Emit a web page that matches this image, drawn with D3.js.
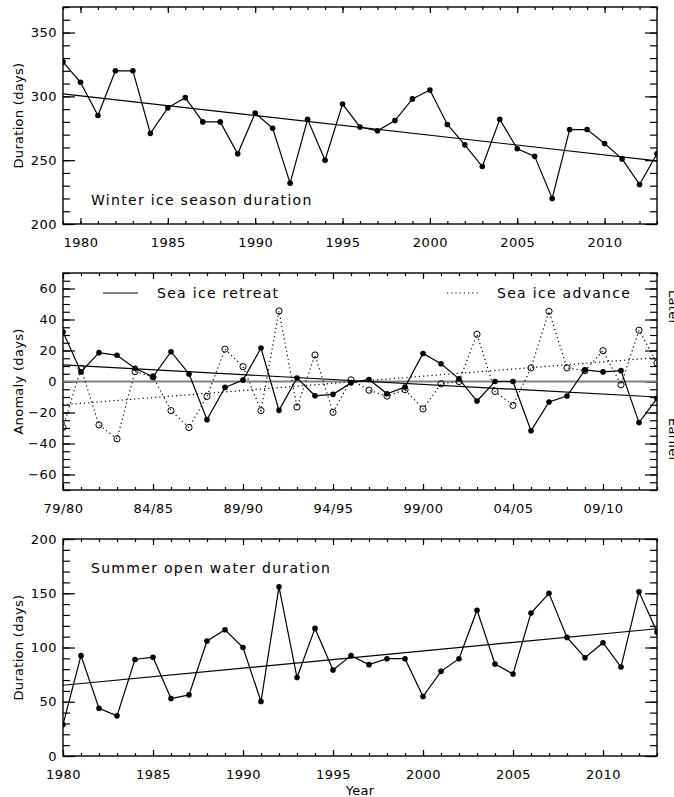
<!DOCTYPE html>
<html>
<head>
<meta charset="utf-8">
<title>Ice season duration</title>
<script src="https://cdn.jsdelivr.net/npm/d3@7"></script>
<style>
body { margin: 0; background: #fff; }
text { font-family: "DejaVu Sans", sans-serif; fill: #000; }
.tick text { font-size: 13px; letter-spacing: 0.5px; }
.domain { display: none; }
.tick line { stroke: #000; stroke-width: 1.2px; }
.frame { fill: none; stroke: #000; stroke-width: 1.4px; }
.line { fill: none; stroke: #000; stroke-width: 1.2px; }
.dotted { stroke-dasharray: 1.2 3; }
.title { font-size: 14px; letter-spacing: 1.3px; }
.ylab { font-size: 13px; letter-spacing: 0.3px; }
</style>
</head>
<body>
<script>
// winter ice season duration, 1979-2013
var winterYears = [1979,1980,1981,1982,1983,1984,1985,1986,1987,1988,1989,1990,1991,1992,1993,1994,1995,1996,
  1997,1998,1999,2000,2001,2002,2003,2004,2005,2006,2007,2008,2009,2010,2011,2012,2013];
var winter = [327,311,285,320,320,271,291,299,280,280,255,287,275,232,282,250,294,276,273,281,298,305,278,262,
  245,282,259,253,220,274,274,263,251,231,255];
var winterTrend = [302, 249.5];

// anomalies by season, 79/80 - 12/13 (first year of season)
var seasons = [1979,1980,1981,1982,1983,1984,1985,1986,1987,1988,1989,1990,1991,1992,1993,1994,1995,1996,
  1997,1998,1999,2000,2001,2002,2003,2004,2005,2006,2007,2008,2009,2010,2011,2012];
var seasonTicks = [1979,1984,1989,1994,1999,2004,2009];
var seasonLabels = ["79/80","84/85","89/90","94/95","99/00","04/05","09/10"];
var retreat = [32,6.2,18.6,16.9,8.5,3,19.2,4.9,-24.6,-3.8,0.9,21.6,-18.6,2.3,-9.2,-8.3,-0.9,1.3,-7.9,-3.6,
  18.1,11.5,1.7,-12.6,0,0,-31.8,-13.2,-9.4,7.5,6.2,7,-26.5,-10.9];
var advance = [-29.7,8.5,-28,-37,6.4,3,-18.8,-29.7,-9.6,20.9,9.6,-18.8,45.5,-16.4,17.1,-19.9,1.1,-5.6,-9.4,
  -5.3,-17.7,-1.5,0,30.5,-6.4,-15.4,8.8,45.3,8.8,7,19.9,-2.1,33.1,12];
var retreatTrend = [10.7, -10];
var advanceTrend = [-15, 15.4];

// summer open water duration, 1980-2013
var summerYears = [1980,1981,1982,1983,1984,1985,1986,1987,1988,1989,1990,1991,1992,1993,1994,1995,1996,
  1997,1998,1999,2000,2001,2002,2003,2004,2005,2006,2007,2008,2009,2010,2011,2012,2013];
var summer = [29,92.5,44,37,89,91,53,56.3,106,116.4,100,50.2,155.9,72.3,117.6,79.3,92.5,84.2,89.7,89.7,
  54.8,78,89.7,134.4,84.8,75.6,131.7,150,109.3,90.6,104.4,82,151.3,114.2];
var summerTrend = [65.2, 117.3];

var _width = 674, _height = 797;
var left = 63, right = 657, ph = 217;
var tops = [7, 273, 539];

var svg = d3.select("body").append("svg")
  .attr("width", _width).attr("height", _height);

function panel(i, xDomain, yDomain, yMajor, yMinor, xMajor, xFormat) {
  var top = tops[i], bottom = top + ph;
  var x = d3.scaleLinear().domain(xDomain).range([left, right]);
  var y = d3.scaleLinear().domain(yDomain).range([bottom, top]);
  var g = svg.append("g");
  var xMinor = d3.range(xDomain[0], xDomain[1] + 1);

  g.append("defs").append("clipPath").attr("id", "clip" + i)
    .append("rect").attr("x", left).attr("y", top).attr("width", right - left).attr("height", ph);

  // minor ticks
  g.append("g").attr("transform", "translate(0," + bottom + ")")
    .call(d3.axisBottom(x).tickValues(xMinor).tickSize(-3).tickFormat(""));
  g.append("g").attr("transform", "translate(0," + top + ")")
    .call(d3.axisTop(x).tickValues(xMinor).tickSize(-3).tickFormat(""));
  g.append("g").attr("transform", "translate(" + left + ",0)")
    .call(d3.axisLeft(y).tickValues(yMinor).tickSize(-7).tickFormat(""));
  g.append("g").attr("transform", "translate(" + right + ",0)")
    .call(d3.axisRight(y).tickValues(yMinor).tickSize(-7).tickFormat(""));

  // major ticks
  g.append("g").attr("transform", "translate(0," + bottom + ")")
    .call(d3.axisBottom(x).tickValues(xMajor).tickSize(-6).tickPadding(14).tickFormat(xFormat));
  g.append("g").attr("transform", "translate(0," + top + ")")
    .call(d3.axisTop(x).tickValues(xMajor).tickSize(-6).tickFormat(""));
  g.append("g").attr("transform", "translate(" + left + ",0)")
    .call(d3.axisLeft(y).tickValues(yMajor).tickSize(-12).tickPadding(6).tickFormat(d3.format("d")));
  g.append("g").attr("transform", "translate(" + right + ",0)")
    .call(d3.axisRight(y).tickValues(yMajor).tickSize(-12).tickFormat(""));

  g.selectAll(".tick text").attr("font-family", null);

  g.append("rect").attr("class", "frame")
    .attr("x", left).attr("y", top).attr("width", right - left).attr("height", ph);

  var body = g.append("g").attr("clip-path", "url(#clip" + i + ")");
  return { x: x, y: y, g: g, body: body, top: top, bottom: bottom };
}

function series(p, xs, ys, cls, filled) {
  var line = d3.line().x(function(d, i) { return p.x(xs[i]); }).y(function(d) { return p.y(d); });
  p.body.append("path").datum(ys).attr("class", "line " + cls).attr("d", line);
  p.body.selectAll(null).data(ys).enter().append("circle")
    .attr("cx", function(d, i) { return p.x(xs[i]); })
    .attr("cy", function(d) { return p.y(d); })
    .attr("r", filled ? 2.8 : 3.1)
    .attr("fill", filled ? "#000" : "none")
    .attr("stroke", "#000").attr("stroke-width", filled ? 0 : 1);
}

function trend(p, xs, t, cls) {
  p.body.append("line").attr("class", "line " + cls)
    .attr("x1", p.x(xs[0])).attr("x2", p.x(xs[xs.length - 1]))
    .attr("y1", p.y(t[0])).attr("y2", p.y(t[1]));
}

function ylabel(p, txt) {
  svg.append("text").attr("class", "ylab")
    .attr("transform", "translate(23," + (p.top + ph / 2) + ") rotate(-90)")
    .attr("text-anchor", "middle").text(txt);
}

// panel 1
var p1 = panel(0, [1979, 2013], [200, 370], d3.range(200, 371, 50), d3.range(200, 371, 10),
  [1980, 1985, 1990, 1995, 2000, 2005, 2010], d3.format("d"));
trend(p1, winterYears, winterTrend, "");
series(p1, winterYears, winter, "", true);
ylabel(p1, "Duration (days)");
svg.append("text").attr("class", "title").attr("x", 91).attr("y", 205).text("Winter ice season duration");

// panel 2
var p2 = panel(1, [1979, 2012], [-70, 70], d3.range(-60, 61, 20), d3.range(-70, 71, 5),
  seasonTicks, function(d) { return seasonLabels[seasonTicks.indexOf(d)]; });
p2.body.append("line").attr("x1", left).attr("x2", right)
  .attr("y1", p2.y(0)).attr("y2", p2.y(0))
  .attr("stroke", "#808080").attr("stroke-width", 2);
trend(p2, seasons, retreatTrend, "");
trend(p2, seasons, advanceTrend, "dotted");
series(p2, seasons, advance, "dotted", false);
series(p2, seasons, retreat, "", true);
ylabel(p2, "Anomaly (days)");
svg.append("line").attr("class", "line").attr("x1", 103).attr("x2", 138).attr("y1", 293).attr("y2", 293);
svg.append("text").attr("class", "title").attr("x", 157).attr("y", 298).text("Sea ice retreat");
svg.append("line").attr("class", "line dotted").attr("x1", 447).attr("x2", 479).attr("y1", 293).attr("y2", 293);
svg.append("text").attr("class", "title").attr("x", 497).attr("y", 298).text("Sea ice advance");
// labels cut by the right edge, as in the source figure
svg.append("text").attr("class", "ylab").attr("transform", "translate(669,290) rotate(90)").text("Later");
svg.append("text").attr("class", "ylab").attr("transform", "translate(669,418) rotate(90)").text("Earlier");

// panel 3
var p3 = panel(2, [1980, 2013], [0, 200], d3.range(0, 201, 50), d3.range(0, 201, 10),
  [1980, 1985, 1990, 1995, 2000, 2005, 2010], d3.format("d"));
trend(p3, summerYears, summerTrend, "");
series(p3, summerYears, summer, "", true);
ylabel(p3, "Duration (days)");
svg.append("text").attr("class", "title").attr("x", 91).attr("y", 573).text("Summer open water duration");
svg.append("text").attr("class", "ylab").attr("x", 360).attr("y", 795).attr("text-anchor", "middle").text("Year");
</script>
</body>
</html>
